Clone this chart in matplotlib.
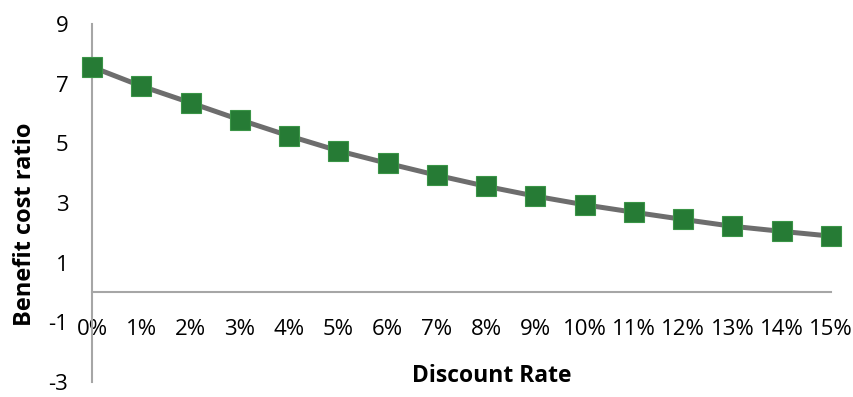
import numpy as np
from matplotlib import pyplot as plt

# 折现率与效益成本比
rates = ['0%', '1%', '2%', '3%', '4%', '5%', '6%', '7%',
         '8%', '9%', '10%', '11%', '12%', '13%', '14%', '15%']
bcr = [7.56, 6.92, 6.36, 5.79, 5.25, 4.75, 4.33, 3.93,
       3.56, 3.23, 2.94, 2.69, 2.45, 2.22, 2.05, 1.89]
y_ticks = [-3, -1, 1, 3, 5, 7, 9]

plt.rcParams['font.family'] = ['Open Sans', 'DejaVu Sans']
plt.rcParams['axes.unicode_minus'] = False

fig = plt.figure(figsize=(8.54, 3.97), dpi=100)
ax = fig.add_axes([0.1077, 0.0378, 0.8653, 0.9017])

x = np.arange(len(rates))
ax.plot(x, bcr, color='#6d6d6d', lw=3.6, marker='s', markersize=14.5,
        markerfacecolor='#267b35', markeredgecolor='#3a9447', markeredgewidth=0.8,
        clip_on=False, zorder=3)

ax.set_xlim(0, 15)
ax.set_ylim(-3, 9)
ax.set_yticks(y_ticks)
ax.set_xticks(x)
ax.set_xticklabels(rates)

for s in ['top', 'right']:
    ax.spines[s].set_visible(False)
ax.spines['bottom'].set_position(('data', 0))
for s in ['left', 'bottom']:
    ax.spines[s].set_color('#a6a6a6')
    ax.spines[s].set_linewidth(1.5)

ax.tick_params(axis='both', length=0, labelsize=16)
ax.tick_params(axis='x', pad=19)
ax.tick_params(axis='y', pad=17)

fig.text(0.576, 0.052, 'Discount Rate', ha='center', va='center',
         fontsize=16.5, fontweight='bold')
fig.text(0.029, 0.435, 'Benefit cost ratio', ha='center', va='center',
         fontsize=17, fontweight='bold', rotation=90)

plt.savefig('out.png', dpi=100)
